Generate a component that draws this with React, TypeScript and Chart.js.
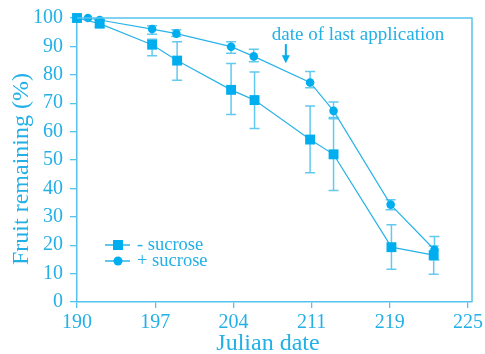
import React, { useEffect, useRef } from 'react';
import { Chart, registerables } from 'chart.js';
Chart.register(...registerables);

// Tick labels of the (evenly spaced) Julian-date axis
const tickLabels = ['190', '197', '204', '211', '219', '225'];
const yTicks = [0, 10, 20, 30, 40, 50, 60, 70, 80, 90, 100];

// - sucrose (positions in tick-index units of the x axis)
const minusX = [0, 0.29, 0.96, 1.28, 1.97, 2.27, 2.98, 3.28, 4.02, 4.56];
const minusY = [100, 98, 90.6, 85, 74.7, 71.1, 57.2, 52, 19.3, 16.5];
const minusHi = [100, 99.3, 92.5, 91.6, 84, 81, 69, 65, 27.2, 19.7];
const minusLo = [100, 96.8, 86.7, 78.1, 66, 61.1, 45.5, 39.3, 11.5, 9.8];

// + sucrose
const plusX = [0.14, 0.29, 0.96, 1.27, 1.97, 2.26, 2.98, 3.28, 4.01, 4.57];
const plusY = [100, 99.3, 96.1, 94.5, 89.9, 86.5, 77.3, 67.3, 34.3, 18.4];
const plusHi = [100, 99.6, 97.3, 95.9, 91.6, 89, 81.2, 70.4, 36, 23.1];
const plusLo = [100, 99, 94.3, 93.5, 87.6, 84.6, 75.4, 64.5, 32.5, 14.8];

const seriesNames = ['- sucrose', '+ sucrose'];
const annotText = 'date of last application';
const annotTextX = 2.49;
const annotTextY = 92.2;
const arrowX = 2.67;
const arrowTop = 90.8;
const arrowTip = 84.1;

const FONT = '"Liberation Serif", "Times New Roman", serif';
const TEXT = '#22B0E6';
const MARK = '#00AEEF';
const LINE = '#2AB3E8';
const ERR = '#62C9F0';
const AXIS = '#55C3EE';

export default function App() {
  const ref = useRef<HTMLCanvasElement>(null);
  useEffect(() => {
    if (!ref.current) return;
    const toPts = (xs: number[], ys: number[]) => xs.map((x, i) => ({ x, y: ys[i] }));

    const plugin = {
      id: 'extras',
      beforeDatasetsDraw(chart: any) {
        const { ctx, scales: { x, y } } = chart;
        ctx.save();
        ctx.strokeStyle = ERR;
        ctx.lineWidth = 1.5;
        const sets: [number[], number[], number[]][] = [
          [minusX, minusHi, minusLo],
          [plusX, plusHi, plusLo],
        ];
        for (const [xs, hi, lo] of sets) {
          xs.forEach((xv, i) => {
            if (hi[i] === lo[i]) return;
            const px = x.getPixelForValue(xv);
            const ph = y.getPixelForValue(hi[i]);
            const pl = y.getPixelForValue(lo[i]);
            ctx.beginPath();
            ctx.moveTo(px, ph);
            ctx.lineTo(px, pl);
            ctx.moveTo(px - 5, ph);
            ctx.lineTo(px + 5, ph);
            ctx.moveTo(px - 5, pl);
            ctx.lineTo(px + 5, pl);
            ctx.stroke();
          });
        }
        ctx.restore();
      },
      afterDraw(chart: any) {
        const { ctx, chartArea: a, scales: { x, y } } = chart;
        ctx.save();
        // frame top / right
        ctx.strokeStyle = AXIS;
        ctx.lineWidth = 1.5;
        ctx.beginPath();
        ctx.moveTo(a.left, a.top);
        ctx.lineTo(a.right, a.top);
        ctx.lineTo(a.right, a.bottom);
        ctx.stroke();

        // axis titles
        ctx.fillStyle = TEXT;
        ctx.font = `24px ${FONT}`;
        ctx.textAlign = 'center';
        ctx.textBaseline = 'alphabetic';
        ctx.fillText('Julian date', 268, 350);
        ctx.save();
        ctx.translate(28, 169);
        ctx.rotate(-Math.PI / 2);
        ctx.fillText('Fruit remaining (%)', 0, 0);
        ctx.restore();

        // annotation
        ctx.font = `19px ${FONT}`;
        ctx.textAlign = 'left';
        ctx.fillText(annotText, x.getPixelForValue(annotTextX), y.getPixelForValue(annotTextY));
        const ax = x.getPixelForValue(arrowX);
        const at = y.getPixelForValue(arrowTop);
        const tip = y.getPixelForValue(arrowTip);
        ctx.strokeStyle = MARK;
        ctx.fillStyle = MARK;
        ctx.lineWidth = 2;
        ctx.beginPath();
        ctx.moveTo(ax, at);
        ctx.lineTo(ax, tip - 6);
        ctx.stroke();
        ctx.beginPath();
        ctx.moveTo(ax - 4, tip - 8);
        ctx.lineTo(ax + 4, tip - 8);
        ctx.lineTo(ax, tip);
        ctx.closePath();
        ctx.fill();

        // legend
        const rows = [245, 261];
        rows.forEach((ry, i) => {
          ctx.strokeStyle = LINE;
          ctx.lineWidth = 1.5;
          ctx.beginPath();
          ctx.moveTo(105, ry);
          ctx.lineTo(130, ry);
          ctx.stroke();
          ctx.fillStyle = MARK;
          if (i === 0) {
            ctx.fillRect(113, ry - 5, 10, 10);
          } else {
            ctx.beginPath();
            ctx.arc(118, ry, 4.5, 0, Math.PI * 2);
            ctx.fill();
          }
          ctx.fillStyle = TEXT;
          ctx.font = `18.5px ${FONT}`;
          ctx.textAlign = 'left';
          ctx.textBaseline = 'middle';
          ctx.fillText(seriesNames[i], 137, ry);
        });
        ctx.restore();
      },
    };

    const chart = new Chart(ref.current, {
      type: 'scatter',
      data: {
        datasets: [
          {
            label: seriesNames[0],
            data: toPts(minusX, minusY),
            showLine: true,
            clip: false,
            borderColor: LINE,
            borderWidth: 1.2,
            backgroundColor: MARK,
            pointStyle: 'rect',
            pointRadius: 7,
            pointBorderWidth: 0,
          },
          {
            label: seriesNames[1],
            data: toPts(plusX, plusY),
            showLine: true,
            clip: false,
            borderColor: LINE,
            borderWidth: 1.2,
            backgroundColor: MARK,
            pointStyle: 'circle',
            pointRadius: 4.3,
            pointBorderWidth: 0,
          },
        ],
      },
      options: {
        animation: false,
        responsive: false,
        devicePixelRatio: 1,
        layout: { padding: { top: 18, right: 13, left: 0, bottom: 0 } },
        plugins: { legend: { display: false }, tooltip: { enabled: false } },
        scales: {
          x: {
            type: 'linear',
            min: 0,
            max: 5.05,
            afterBuildTicks: (s: any) => {
              s.ticks = tickLabels.map((_, i) => ({ value: i }));
            },
            afterFit: (s: any) => {
              s.height = 52;
              s.paddingLeft = 0;
              s.paddingRight = 0;
            },
            grid: { display: true, drawOnChartArea: false, drawTicks: true, tickLength: 6, color: AXIS, lineWidth: 1.3 },
            border: { display: true, color: AXIS, width: 1.5 },
            ticks: {
              color: TEXT,
              font: { family: FONT, size: 20 },
              padding: 3,
              maxRotation: 0,
              callback: (v: any) => tickLabels[Math.round(v)] ?? '',
            },
          },
          y: {
            type: 'linear',
            min: 0,
            max: 100,
            afterBuildTicks: (s: any) => {
              s.ticks = yTicks.map((v) => ({ value: v }));
            },
            afterFit: (s: any) => {
              s.width = 77;
              s.paddingTop = 0;
              s.paddingBottom = 0;
            },
            grid: { display: true, drawOnChartArea: false, drawTicks: true, tickLength: 7, color: AXIS, lineWidth: 1.3 },
            border: { display: true, color: AXIS, width: 1.5 },
            ticks: {
              color: TEXT,
              font: { family: FONT, size: 20 },
              padding: 7,
            },
          },
        },
      },
      plugins: [plugin],
    } as any);
    return () => chart.destroy();
  }, []);

  return (
    <div style={{ position: 'absolute', left: 0, top: 0, width: 485, height: 354, background: '#fff' }}>
      <canvas ref={ref} width={485} height={354} style={{ display: 'block' }} />
    </div>
  );
}
